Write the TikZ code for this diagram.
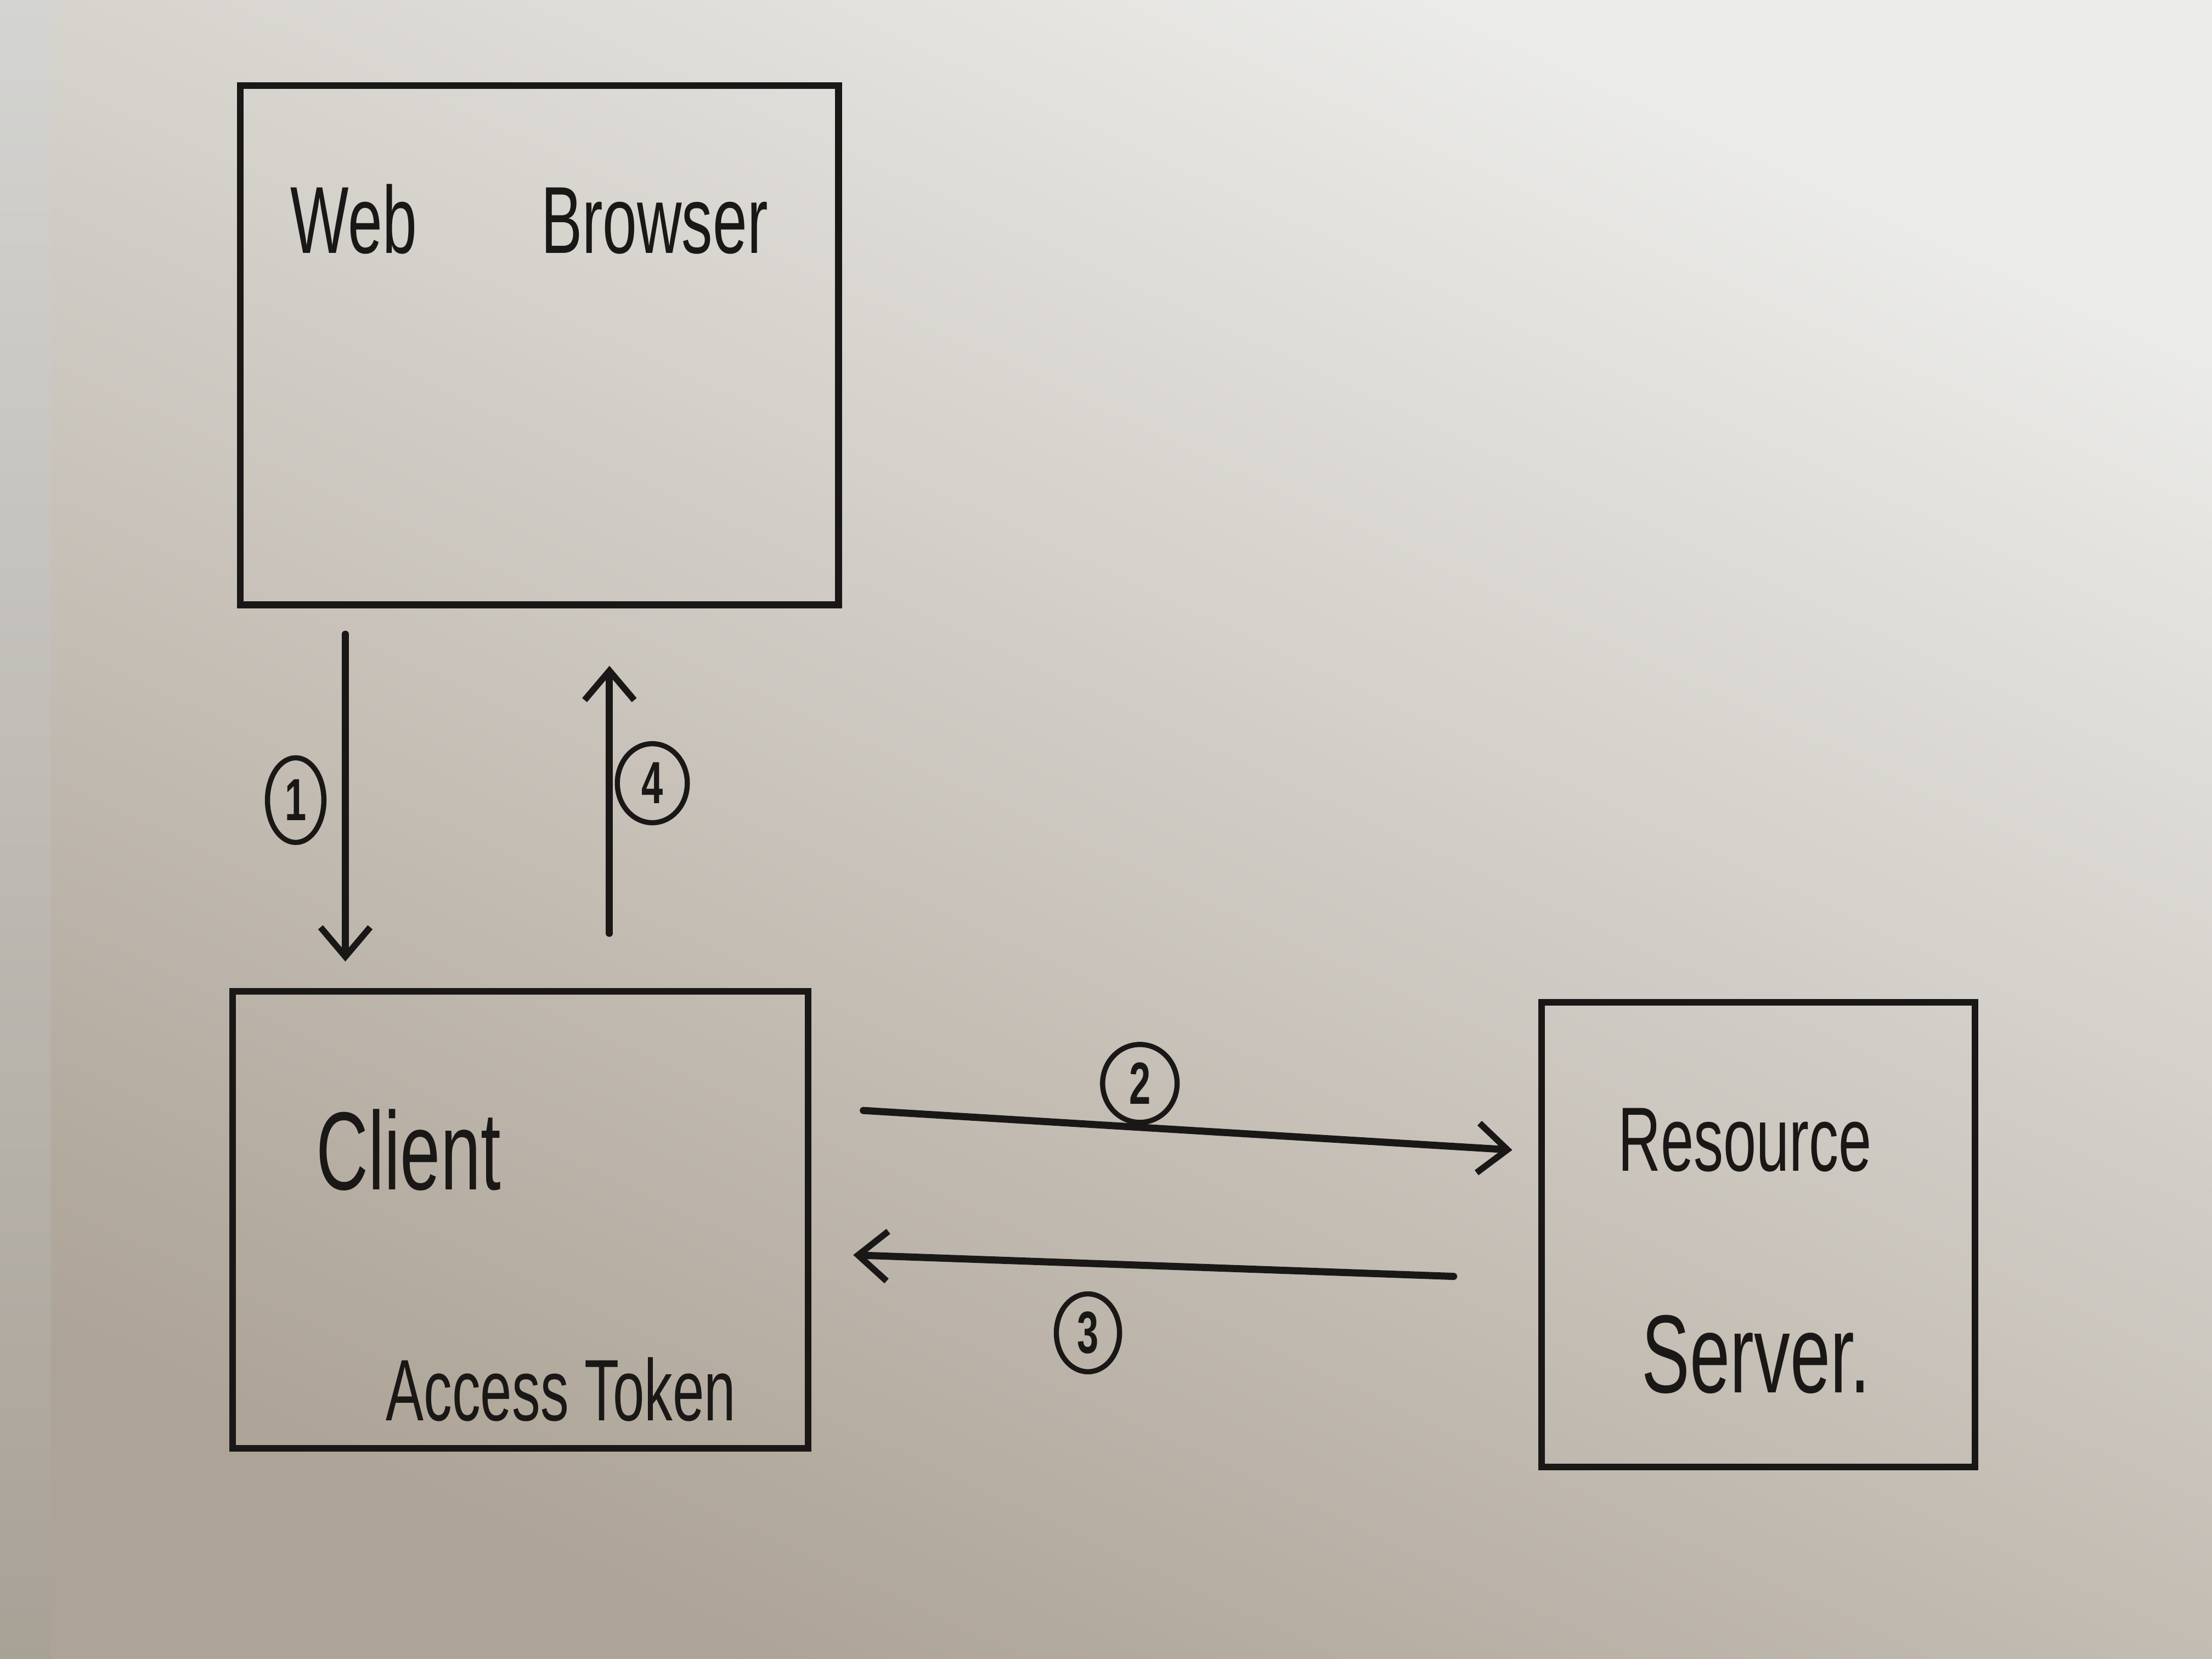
\documentclass[tikz,border=0pt]{standalone}
\usepackage{fontspec}
\newfontfamily\handfont[FakeStretch=0.65]{Liberation Sans}
\usetikzlibrary{arrows.meta,positioning,shapes.geometric}
\definecolor{ink}{HTML}{1A1816}
\definecolor{paperHi}{HTML}{ECECEA}
\definecolor{paperMid}{HTML}{DFDCD6}
\definecolor{paperLo}{HTML}{ADA396}
\definecolor{edgeHi}{HTML}{D4D4D2}
\definecolor{edgeLo}{HTML}{A8A196}
\tikzset{
  >={Straight Barb[length=2.6mm,width=4.4mm,line width=1.6pt]},
  sysbox/.style={draw=ink,line width=1.7pt,inner sep=0pt},
  hand/.style={font=\handfont\fontsize{#1}{#1}\selectfont,text=ink,inner sep=0pt},
  hand/.default=22,
  flow/.style={->,draw=ink,line width=1.8pt,line cap=round},
  steplab/.style={ellipse,draw=ink,line width=1.3pt,minimum width=5.6mm,
    minimum height=7mm,inner sep=0pt,font=\handfont\bfseries\fontsize{15}{15}\selectfont,text=ink},
}

\begin{document}
\begin{tikzpicture}[x=1mm,y=1mm]

% ---------- paper ----------
\useasboundingbox (0,0) rectangle (196,147);
\shade[top color=paperHi,middle color=paperMid,bottom color=paperLo,shading angle=-25]
  (0,0) rectangle (196,147);
\shade[top color=edgeHi,bottom color=edgeLo] (0,0) rectangle (4.5,147);

% ---------- systems ----------
\node[sysbox,minimum width=53mm,minimum height=46mm] (browser) at (47.8,116.4) {};
\node[hand=24] (browserlab) at (46.9,127.6) {Web\hspace{11mm}Browser};

\node[sysbox,minimum width=51mm,minimum height=40.5mm] (client) at (46.1,38.9) {};
\node[hand=28] (clientlab) at (36.2,45.1) {Client};
\node[hand=22] (tokenlab) at (49.7,23.9) {Access Token};

\node[sysbox,minimum width=38.4mm,minimum height=41.2mm] (resource) at (155.8,37.6) {};
\node[hand=23] (resourcelab) at (154.6,46) {Resource};
\node[hand=28] (serverlab) at (155.6,27) {Server.};

% ---------- flows ----------
\coordinate (f1a) at (30.6,90.8);  \coordinate (f1b) at (30.6,61.8);
\coordinate (f2a) at (76.5,48.6);  \coordinate (f2b) at (134,45.1);
\coordinate (f3a) at (128.8,33.9); \coordinate (f3b) at (75.6,35.8);
\coordinate (f4a) at (54,64.3);    \coordinate (f4b) at (54,88);
\draw[flow] (f1a) -- (f1b);
\draw[flow] (f2a) -- (f2b);
\draw[flow] (f3a) -- (f3b);
\draw[flow] (f4a) -- (f4b);

\node[steplab,minimum width=5mm,minimum height=7.5mm] (s1) at (26.2,76.1) {1};
\node[steplab,minimum width=6.6mm,minimum height=6.9mm] (s2) at (101,51) {2};
\node[steplab,minimum width=5.6mm,minimum height=6.9mm] (s3) at (96.4,28.9) {3};
\node[steplab,minimum width=6.2mm,minimum height=7mm] (s4) at (57.8,77.6) {4};

\end{tikzpicture}
\end{document}
